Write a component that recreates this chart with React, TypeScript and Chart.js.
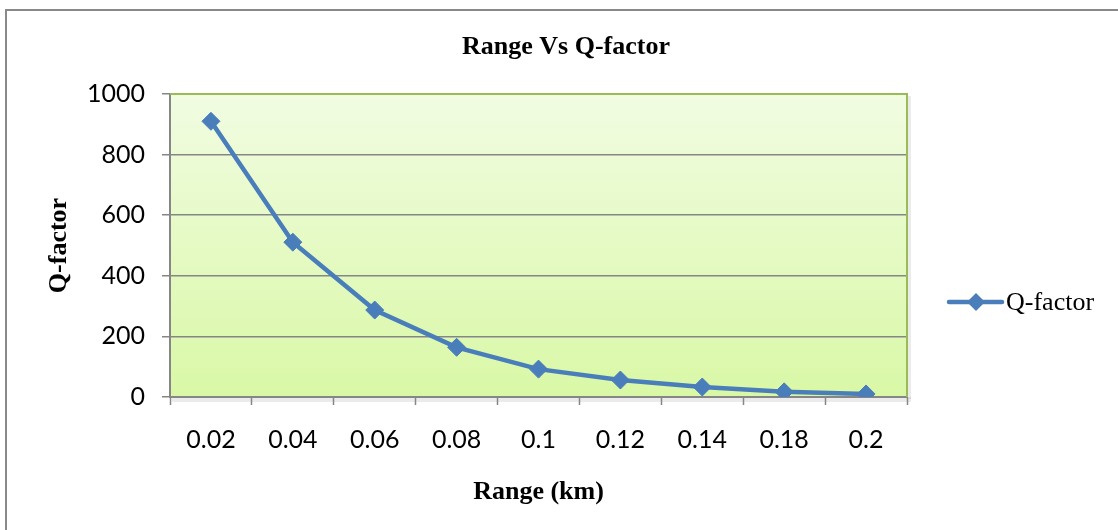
import React, { useEffect, useRef } from "react";
import { Chart, registerables } from "chart.js";

Chart.register(...registerables);

const categories = ["0.02", "0.04", "0.06", "0.08", "0.1", "0.12", "0.14", "0.18", "0.2"];
const qFactor = [910, 511, 287, 164, 92, 56, 33, 17, 10];
const seriesName = "Q-factor";
const chartTitle = "Range Vs Q-factor";
const xTitle = "Range (km)";
const yTitle = "Q-factor";

const BLUE = "#4a7ebb";
const GRAY = "#868686";
const GREEN = "#9bbb59";
const TICK_FONT = "Lato, 'Open Sans', sans-serif";
const SERIF = "'Liberation Serif', 'Times New Roman', serif";

const decorPlugin = {
  id: "decor",
  beforeDraw(chart: any) {
    const { ctx, chartArea: a } = chart;
    ctx.save();
    // outer border
    ctx.strokeStyle = "#898989";
    ctx.lineWidth = 2;
    ctx.beginPath();
    ctx.moveTo(6, 540);
    ctx.lineTo(6, 10);
    ctx.lineTo(1130, 10);
    ctx.stroke();
    // shadow
    ctx.fillStyle = "rgba(0,0,0,0.08)";
    ctx.fillRect(a.left + 2, a.bottom, a.right - a.left + 2, 5);
    ctx.fillRect(a.right, a.top + 2, 4, a.bottom - a.top);
    // plot gradient
    const g = ctx.createLinearGradient(0, a.top, 0, a.bottom);
    g.addColorStop(0, "#f1fce2");
    g.addColorStop(1, "#d9f8a6");
    ctx.fillStyle = g;
    ctx.fillRect(a.left, a.top, a.right - a.left, a.bottom - a.top);
    // chart title
    ctx.fillStyle = "#000";
    ctx.font = `bold 26px ${SERIF}`;
    ctx.textAlign = "center";
    ctx.textBaseline = "middle";
    ctx.fillText(chartTitle, 566, 47);
    ctx.restore();
  },
  beforeDatasetsDraw(chart: any) {
    const { ctx, chartArea: a } = chart;
    ctx.save();
    ctx.strokeStyle = GREEN;
    ctx.lineWidth = 2;
    ctx.beginPath();
    ctx.moveTo(a.left, a.top);
    ctx.lineTo(a.right, a.top);
    ctx.lineTo(a.right, a.bottom);
    ctx.stroke();
    ctx.restore();
  },
  afterDraw(chart: any) {
    const { ctx } = chart;
    ctx.save();
    const y = 302;
    ctx.strokeStyle = BLUE;
    ctx.lineWidth = 4.5;
    ctx.lineCap = "round";
    ctx.beginPath();
    ctx.moveTo(949, y);
    ctx.lineTo(1002, y);
    ctx.stroke();
    ctx.fillStyle = BLUE;
    ctx.beginPath();
    ctx.moveTo(976 - 9, y);
    ctx.lineTo(976, y - 9);
    ctx.lineTo(976 + 9, y);
    ctx.lineTo(976, y + 9);
    ctx.closePath();
    ctx.fill();
    ctx.fillStyle = "#000";
    ctx.font = `26px ${SERIF}`;
    ctx.textBaseline = "middle";
    ctx.textAlign = "left";
    ctx.fillText(seriesName, 1006, y + 1);
    ctx.restore();
  },
};

export default function App() {
  const ref = useRef<HTMLCanvasElement>(null);
  useEffect(() => {
    const chart = new Chart(ref.current as HTMLCanvasElement, {
      type: "line",
      data: {
        labels: categories,
        datasets: [
          {
            label: seriesName,
            data: qFactor,
            borderColor: BLUE,
            backgroundColor: BLUE,
            borderWidth: 4.5,
            pointStyle: "rectRot",
            pointRadius: 9,
            pointBorderWidth: 1,
            pointBackgroundColor: BLUE,
            pointBorderColor: BLUE,
            tension: 0,
          },
        ],
      },
      options: {
        responsive: false,
        animation: false,
        layout: { padding: { top: 94, right: 211, bottom: 0, left: 0 } },
        plugins: {
          legend: { display: false },
          tooltip: { enabled: false },
          title: { display: false },
        },
        scales: {
          x: {
            offset: true,
            afterFit(scale: any) {
              scale.height = 133;
            },
            grid: {
              offset: true,
              drawOnChartArea: false,
              drawTicks: true,
              tickLength: 8,
              tickColor: GRAY,
              tickWidth: 1.5,
            },
            border: { color: GRAY, width: 2 },
            ticks: {
              color: "#000",
              font: { family: TICK_FONT, size: 25 },
              padding: 20,
              maxRotation: 0,
              autoSkip: false,
            },
            title: {
              display: true,
              text: xTitle,
              color: "#000",
              font: { family: SERIF, size: 26, weight: "bold" },
              padding: { top: 0, bottom: 22 },
            },
          },
          y: {
            min: 0,
            max: 1000,
            afterFit(scale: any) {
              scale.width = 170;
            },
            grid: {
              color: (c: any) => (c.tick && c.tick.value === 1000 ? "rgba(0,0,0,0)" : GRAY),
              lineWidth: 1.5,
              drawTicks: true,
              tickLength: 8,
              tickColor: GRAY,
              tickWidth: 1.5,
            },
            border: { color: GRAY, width: 2 },
            ticks: {
              stepSize: 200,
              color: "#000",
              font: { family: TICK_FONT, size: 25 },
              padding: 17,
              callback: (v: any) => String(v),
            },
            title: {
              display: true,
              text: yTitle,
              color: "#000",
              font: { family: SERIF, size: 26, weight: "bold" },
              padding: { top: 44, bottom: 0 },
            },
          },
        },
      },
      plugins: [decorPlugin],
    } as any);
    return () => chart.destroy();
  }, []);
  return (
    <div style={{ position: "absolute", left: 0, top: 0, width: 1118, height: 530, background: "#fff" }}>
      <canvas ref={ref} width={1118} height={530} style={{ display: "block" }} />
    </div>
  );
}
